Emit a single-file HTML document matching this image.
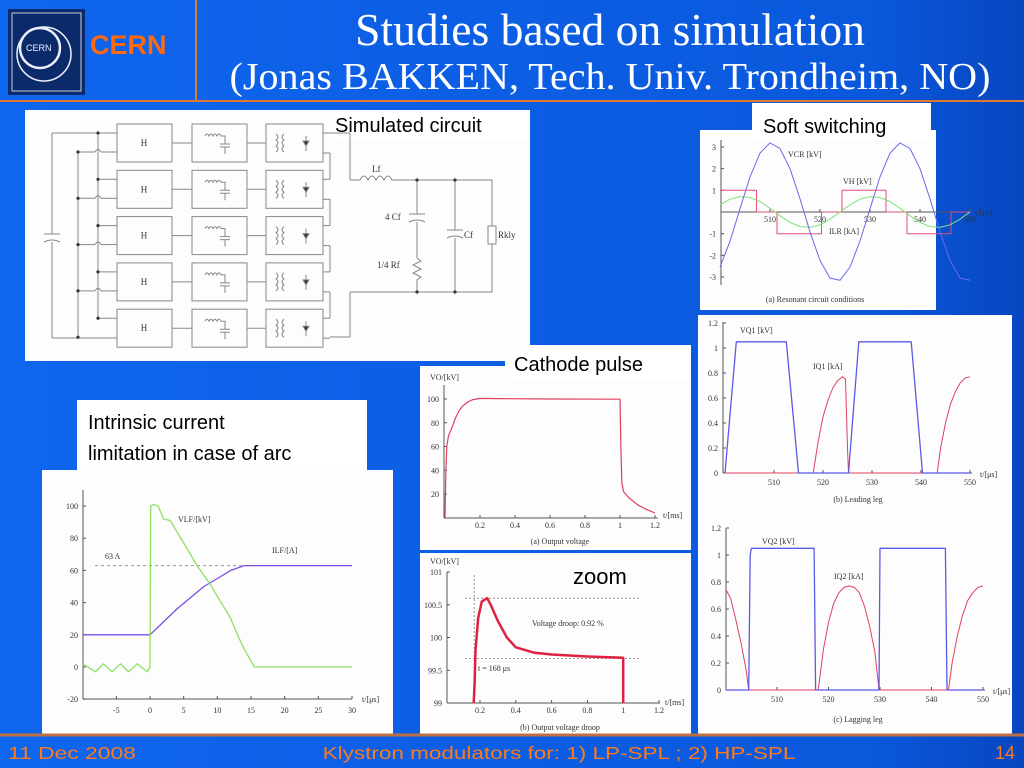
<!DOCTYPE html>
<html><head><meta charset="utf-8">
<style>
html,body{margin:0;padding:0;width:1024px;height:768px;overflow:hidden;background:#0b5fe5}
svg{display:block}
.lbl{font-family:"Liberation Sans",Arial,sans-serif;fill:#000}
.tk{font-family:"Liberation Serif",serif;font-size:8px;fill:#333}
.ft{font-family:"Liberation Sans",sans-serif;fill:#ff7a1a;font-size:18px}
</style></head>
<body>
<svg id="s" width="1024" height="768" xmlns="http://www.w3.org/2000/svg">
<defs><linearGradient id="bg" x1="0" y1="0" x2="1" y2="0">
<stop offset="0" stop-color="#0f66ee"/><stop offset="0.85" stop-color="#0a58dc"/><stop offset="1" stop-color="#0846c0"/></linearGradient></defs>
<rect width="1024" height="768" fill="url(#bg)"/>
<g>
<rect x="8" y="9" width="77" height="86" fill="#0a2a6a"/>
<rect x="12" y="13" width="69" height="78" fill="none" stroke="#ccd" stroke-width="1"/>
<circle cx="40" cy="48" r="20" fill="none" stroke="#eef" stroke-width="2.5"/>
<circle cx="44" cy="54" r="27" fill="none" stroke="#eef" stroke-width="1.5"/>
<text x="26" y="51" font-family="Liberation Sans" font-size="9" fill="#eef">CERN</text>
<text x="90" y="54" font-family="Liberation Sans" font-weight="bold" font-size="27" fill="#ff6a10">CERN</text>
<line x1="196" y1="0" x2="196" y2="101" stroke="#e07830" stroke-width="2"/>
<line x1="0" y1="101" x2="1024" y2="101" stroke="#e07830" stroke-width="2"/>
<text transform="translate(610,45) scale(0.99,1)" text-anchor="middle" font-family="Liberation Serif,serif" font-size="46" fill="#fff">Studies based on simulation</text>
<text transform="translate(610,89) scale(1.055,1)" text-anchor="middle" font-family="Liberation Serif,serif" font-size="38" fill="#fff">(Jonas BAKKEN, Tech. Univ. Trondheim, NO)</text>
</g>
<rect x="25" y="110" width="505" height="251" fill="#fdfdfd"/>
<rect x="700" y="130" width="236" height="180" fill="#fdfdfd"/>
<rect x="698" y="315" width="314" height="420" fill="#fdfdfd"/>
<rect x="420" y="366" width="271" height="184" fill="#fdfdfd"/>
<rect x="420" y="553" width="271" height="182" fill="#fdfdfd"/>
<rect x="42" y="470" width="351" height="264" fill="#fdfdfd"/>
<rect x="330" y="110" width="198" height="30" fill="#fff"/>
<text class="lbl" x="335" y="132" font-size="20">Simulated circuit</text>
<rect x="752" y="103" width="179" height="37" fill="#fff"/>
<text class="lbl" x="763" y="133" font-size="20">Soft switching</text>
<rect x="505" y="345" width="186" height="35" fill="#fff"/>
<text class="lbl" x="514" y="371" font-size="20">Cathode pulse</text>
<rect x="77" y="400" width="290" height="70" fill="#fff"/>
<text class="lbl" x="88" y="429" font-size="20">Intrinsic current</text>
<text class="lbl" x="88" y="460" font-size="20">limitation in case of arc</text>
<text class="lbl" x="573" y="584" font-size="22">zoom</text>
<line x1="0" y1="735" x2="1024" y2="735" stroke="#c07040" stroke-width="3"/>
<text class="ft" transform="translate(8,759) scale(1.27,1)">11 Dec 2008</text>
<text class="ft" transform="translate(559,759) scale(1.25,1)" text-anchor="middle">Klystron modulators for: 1) LP-SPL ; 2) HP-SPL</text>
<text class="ft" x="1015" y="759" text-anchor="end">14</text>
<g id="circ" stroke="#888" stroke-width="1" fill="none"></g>
<g id="charts"></g>
</svg>
<script>
const arcT=[-10,-8.1,-6.9,-5.6,-4.4,-3.2,-1.9,-0.4,0,0.1,0.5,1.2,2,3,4,5,6,7,8,9,10,11,12,13,14,15.5,30];
const arcV=[2,-3,2,-3,2,-3,2,-3,0,100,101,100,92,91,84,77,70,63,57,51,44,37,30,20,11,0,0];
const arcIT=[-10,0,2,4,6,8,10,12,14,16,30];
const arcI=[20,20,28,36,43,50,55,60,63,63,63];
const arcXTicks=[-5,0,5,10,15,20,25,30];
const arcYTicks=[-20,0,20,40,60,80,100];
const resT=[500,502,504,506,508,510,512,514,516,518,520,522,524,526,528,530,532,534,536,538,540,542,544,546,548,550];
const resVCR=[-2.54,-1.35,0.15,1.62,2.72,3.19,2.93,2.00,0.61,-0.92,-2.24,-3.05,-3.15,-2.54,-1.34,0.15,1.62,2.72,3.19,2.93,2.00,0.61,-0.92,-2.24,-3.05,-3.15];
const resILR=[0.33,0.59,0.71,0.67,0.48,0.17,-0.17,-0.48,-0.67,-0.71,-0.59,-0.33,0,0.33,0.59,0.71,0.67,0.48,0.17,-0.17,-0.48,-0.67,-0.71,-0.59,-0.33,0];
const resVHT=[500,507.3,507.3,511.4,511.4,520.3,520.3,524.4,524.4,533.2,533.2,537.4,537.4,546.2,546.2,550];
const resVH=[1,1,0,0,-1,-1,0,0,1,1,0,0,-1,-1,0,0];
const resXTicks=[510,520,530,540,550];
const resYTicks=[-3,-2,-1,1,2,3];
const q1VT=[500,502.3,512.5,515,525.2,527.3,538,540.3,550];
const q1V=[0,1.05,1.05,0,0,1.05,1.05,0,0];
const q1IT=[500,518,519,520,521,522,523,524,524.6,525,525.2,543.3,544,545,546,547,548,549,550];
const q1I=[0,0,0.25,0.45,0.58,0.68,0.74,0.77,0.75,0.2,0,0,0.2,0.4,0.55,0.65,0.72,0.76,0.77];
const q2VT=[500,504.5,504.8,505,517.2,517.5,529.8,530,542.7,543,550];
const q2V=[0,0,1.0,1.05,1.05,0,0,1.05,1.05,0,0];
const q2IT=[500,501,502,503,504,504.5,518,519,520,521,522,523,524,525,526,527,528,529,529.8,543.3,544,545,546,547,548,549,550];
const q2I=[0.75,0.68,0.52,0.35,0.15,0,0,0.3,0.5,0.64,0.72,0.76,0.77,0.76,0.72,0.62,0.47,0.28,0,0,0.2,0.4,0.55,0.66,0.72,0.76,0.77];
const legXTicks=[510,520,530,540,550];
const legYTicks=[0,0.2,0.4,0.6,0.8,1,1.2];
const outT=[0,0.005,0.01,0.02,0.04,0.06,0.08,0.1,0.13,0.16,0.2,0.3,0.6,1.0,1.005,1.01,1.02,1.05,1.1,1.15,1.2];
const outV=[0,40,60,69,76,84,90,94,97.5,99.5,100.5,100.3,100,99.8,60,30,22,17,11,7,4];
const outXTicks=[0.2,0.4,0.6,0.8,1,1.2];
const outYTicks=[20,40,60,80,100];
const drT=[0.165,0.17,0.175,0.19,0.21,0.24,0.26,0.3,0.35,0.4,0.5,0.6,0.8,1.0,1.0];
const drV=[99,99.3,99.8,100.3,100.55,100.6,100.5,100.25,100.0,99.85,99.77,99.74,99.71,99.69,99];
const drXTicks=[0.2,0.4,0.6,0.8,1,1.2];
const drYTicks=[99,99.5,100,100.5,101];

const NS='http://www.w3.org/2000/svg';
const root=document.getElementById('charts');
function lin(d0,d1,r0,r1){return v=>r0+(v-d0)*(r1-r0)/(d1-d0);}
function mk(tag,parent,attrs){const e=document.createElementNS(NS,tag);for(const k in attrs)e.setAttribute(k,attrs[k]);parent.appendChild(e);return e;}
function txt(parent,x,y,s,cls,anchor,fill,size,name){
  const t=mk('text',parent,{x:x,y:y,class:cls||'tk'});
  if(anchor)t.setAttribute('text-anchor',anchor);
  if(fill)t.setAttribute('fill',fill);
  if(size)t.setAttribute('font-size',size);
  t.textContent=s;
  
  
  return t;}
function series(parent,xs,ys,sx,sy,color,w,name){
  let d='';for(let i=0;i<xs.length;i++)d+=(i?'L':'M')+sx(xs[i]).toFixed(1)+' '+sy(ys[i]).toFixed(1);
  const p=mk('path',parent,{d:d,fill:'none',stroke:color,'stroke-width':w,'stroke-linejoin':'round'});
  
  
  return p;}
function axes(g,o){
  mk('line',g,{x1:o.xl,y1:o.axisY,x2:o.xr,y2:o.axisY,stroke:'#555','stroke-width':1});
  mk('line',g,{x1:o.xl,y1:o.yb,x2:o.xl,y2:o.yt,stroke:'#555','stroke-width':1});
  o.xTicks.forEach(v=>{const x=o.sx(v);mk('line',g,{x1:x,y1:o.axisY,x2:x,y2:o.axisY-3,stroke:'#555'});
    txt(g,x,o.xlabY,String(v),'tk','middle');});
  o.yTicks.forEach(v=>{const y=o.sy(v);mk('line',g,{x1:o.xl,y1:y,x2:o.xl+3,y2:y,stroke:'#555'});
    txt(g,o.xl-5,y+3,String(v),'tk','end');});
}
function grp(name){const g=mk('g',root,{});return g;}

(function(){const g=grp('arc-chart');
 const sx=lin(0,30,150,352), sy=lin(0,100,667,506);
 axes(g,{sx,sy,xl:83,xr:352,yb:699,yt:490,axisY:699,xTicks:arcXTicks,yTicks:arcYTicks,xlabY:713});
 mk('line',g,{x1:95,y1:sy(63),x2:352,y2:sy(63),stroke:'#999','stroke-dasharray':'3 3'});
 txt(g,105,559,'63 A','tk',null,'#333',10,'63a-annotation');
 series(g,arcIT,arcI,sx,sy,'#7a4fe0',1.3,'ilf-series');
 series(g,arcT,arcV,sx,sy,'#8ee060',1.3,'vlf-series');
 txt(g,178,522,'VLF/[kV]','tk',null,'#8ee060',10,'vlf-label');
 txt(g,272,553,'ILF/[A]','tk',null,'#7a4fe0',10,'ilf-label');
 txt(g,362,702,'t/[μs]','tk',null,'#333',10,'arc-x-axis-title');
})();
(function(){const g=grp('resonant-chart');
 const sx=lin(510,550,770,970), sy=lin(0,3,212,147);
 axes(g,{sx,sy,xl:721,xr:970,yb:285,yt:140,axisY:212,xTicks:resXTicks,yTicks:resYTicks,xlabY:222});
 series(g,resVHT,resVH,sx,sy,'#e05070',1,'vh-series');
 series(g,resT,resILR,sx,sy,'#80e080',1,'ilr-series');
 series(g,resT,resVCR,sx,sy,'#6a6ae6',1,'vcr-series');
 txt(g,788,157,'VCR [kV]','tk',null,'#6a6ae6',8,'vcr-label');
 txt(g,843,184,'VH [kV]','tk',null,'#e05070',8,'vh-label');
 txt(g,829,234,'ILR [kA]','tk',null,'#80e080',8,'ilr-label');
 txt(g,975,215,'t/[μs]','tk',null,'#333',8,'res-x-axis-title');
 txt(g,815,302,'(a) Resonant circuit conditions','tk','middle','#333',8,'res-caption');
})();
(function(){const g=grp('leading-leg-chart');
 const sx=lin(510,550,774,970), sy=lin(0,1,473,348);
 axes(g,{sx,sy,xl:723,xr:972,yb:473,yt:322,axisY:473,xTicks:legXTicks,yTicks:legYTicks,xlabY:485});
 series(g,q1IT,q1I,sx,sy,'#e04060',1,'iq1-series');
 series(g,q1VT,q1V,sx,sy,'#5a5ae6',1.3,'vq1-series');
 txt(g,740,333,'VQ1 [kV]','tk',null,'#5a5ae6',8,'vq1-label');
 txt(g,813,369,'IQ1 [kA]','tk',null,'#e04060',8,'iq1-label');
 txt(g,980,477,'t/[μs]','tk',null,'#333',8,'lead-x-axis-title');
 txt(g,858,502,'(b) Leading leg','tk','middle','#333',8,'lead-caption');
})();
(function(){const g=grp('lagging-leg-chart');
 const sx=lin(510,550,777,983), sy=lin(0,1,690,555);
 axes(g,{sx,sy,xl:726,xr:985,yb:690,yt:528,axisY:690,xTicks:legXTicks,yTicks:legYTicks,xlabY:702});
 series(g,q2IT,q2I,sx,sy,'#e04060',1,'iq2-series');
 series(g,q2VT,q2V,sx,sy,'#5a5ae6',1.3,'vq2-series');
 txt(g,762,544,'VQ2 [kV]','tk',null,'#5a5ae6',8,'vq2-label');
 txt(g,834,579,'IQ2 [kA]','tk',null,'#e04060',8,'iq2-label');
 txt(g,993,694,'t/[μs]','tk',null,'#333',8,'lag-x-axis-title');
 txt(g,858,722,'(c) Lagging leg','tk','middle','#333',8,'lag-caption');
})();
(function(){const g=grp('output-voltage-chart');
 const sx=lin(0.2,1.2,480,655), sy=lin(20,100,494,399);
 axes(g,{sx,sy,xl:444,xr:658,yb:518,yt:385,axisY:518,xTicks:outXTicks,yTicks:outYTicks,xlabY:528});
 series(g,outT,outV,sx,sy,'#e04060',1.2,'vo-series');
 txt(g,430,380,'VO/[kV]','tk',null,'#333',8,'vo-axis-title');
 txt(g,663,518,'t/[ms]','tk',null,'#333',8,'out-x-axis-title');
 txt(g,560,544,'(a) Output voltage','tk','middle','#333',8,'out-caption');
})();
(function(){const g=grp('droop-chart');
 const sx=lin(0.2,1.2,480,659), sy=lin(99,101,703,572);
 axes(g,{sx,sy,xl:447,xr:660,yb:703,yt:572,axisY:703,xTicks:drXTicks,yTicks:drYTicks,xlabY:713});
 mk('line',g,{x1:465,y1:sy(100.6),x2:640,y2:sy(100.6),stroke:'#999','stroke-dasharray':'2 2'});
 mk('line',g,{x1:465,y1:sy(99.68),x2:640,y2:sy(99.68),stroke:'#999','stroke-dasharray':'2 2'});
 mk('line',g,{x1:sx(0.168),y1:575,x2:sx(0.168),y2:703,stroke:'#999','stroke-dasharray':'2 2'});
 series(g,drT,drV,sx,sy,'#e02040',2.5,'droop-series');
 txt(g,532,626,'Voltage droop: 0.92 %','tk',null,'#333',8,'droop-annotation');
 txt(g,478,671,'t = 168 μs','tk',null,'#333',8,'t168-annotation');
 txt(g,430,564,'VO/[kV]','tk',null,'#333',8,'droop-axis-title');
 txt(g,665,705,'t/[ms]','tk',null,'#333',8,'droop-x-axis-title');
 txt(g,560,730,'(b) Output voltage droop','tk','middle','#333',8,'droop-caption');
})();
(function(){const c=document.getElementById('circ');
 const L=(x1,y1,x2,y2)=>mk('line',c,{x1,y1,x2,y2});
 const dot=(x,y)=>mk('circle',c,{cx:x,cy:y,r:1.6,fill:'#333',stroke:'none'});
 L(52,133,117,133);L(52,338,117,338);L(52,133,52,234);L(52,242,52,338);
 mk('path',c,{d:'M44 234 L60 234 M44 242 Q52 238 60 242'});
 L(78,152,78,338);L(98,133,98,319);
 for(let i=0;i<5;i++){const y=124+46.3*i;
  mk('rect',c,{x:117,y:y,width:55,height:38});
  const h=mk('text',c,{x:144,y:y+22,'text-anchor':'middle','font-family':'Liberation Serif','font-size':9,fill:'#333',stroke:'none'});h.textContent='H';
  mk('rect',c,{x:192,y:y,width:55,height:38});
  mk('rect',c,{x:266,y:y,width:57,height:38});
  L(172,y+19,192,y+19);L(247,y+19,266,y+19);
  mk('path',c,{d:`M205 ${y+12} q2 -4 4 0 q2 -4 4 0 q2 -4 4 0 q2 -4 4 0 L225 ${y+12} L225 ${y+20} M220 ${y+20} L230 ${y+20} M220 ${y+23} L230 ${y+23} M225 ${y+23} L225 ${y+30}`});
  mk('path',c,{d:`M276 ${y+10} q4 3 0 6 q4 3 0 6 q4 3 0 6 M284 ${y+10} q-4 3 0 6 q-4 3 0 6 q-4 3 0 6 M306 ${y+12} L306 ${y+27}`});
  mk('path',c,{d:`M303 ${y+17} L309 ${y+17} L306 ${y+22} Z`,fill:'#333'});
  L(98,y+9,117,y+9);dot(98,y+9);
  if(i<4){L(78,y+28,95,y+28);L(101,y+28,117,y+28);mk('path',c,{d:`M95 ${y+28} q3 -5 6 0`});}
  dot(78,y+28);
  L(323,y+9,330,y+9);L(323,y+29,330,y+29);
  if(i<4)L(330,y+29,330,y+46.3+9);
 }
 L(330,133,350,133);L(350,133,350,180);L(350,180,360,180);
 mk('path',c,{d:'M360 180 q4 -8 8 0 q4 -8 8 0 q4 -8 8 0 q4 -8 8 0 L397 180'});
 L(397,180,492,180);L(350,292,492,292);L(350,292,350,337);L(330,337,350,337);
 L(417,180,417,214);L(417,222,417,258);L(409,214,425,214);mk('path',c,{d:'M409 222 Q417 218 425 222'});
 mk('path',c,{d:'M417 258 l4 3 l-8 4 l8 4 l-8 4 l8 4 l-4 3 L417 292'});
 L(455,180,455,230);L(455,238,455,292);L(447,230,463,230);mk('path',c,{d:'M447 238 Q455 234 463 238'});
 L(492,180,492,226);L(492,244,492,292);mk('rect',c,{x:488,y:226,width:8,height:18});
 [[417,180],[455,180],[417,292],[455,292]].forEach(p=>dot(p[0],p[1]));
 const t=(x,y,s)=>{const e=mk('text',c,{x,y,'font-family':'Liberation Serif','font-size':9,fill:'#333',stroke:'none'});e.textContent=s;};
 t(372,172,'Lf');t(385,220,'4 Cf');t(377,268,'1/4 Rf');t(464,238,'Cf');t(498,238,'Rkly');
})();
</script>
</body></html>
